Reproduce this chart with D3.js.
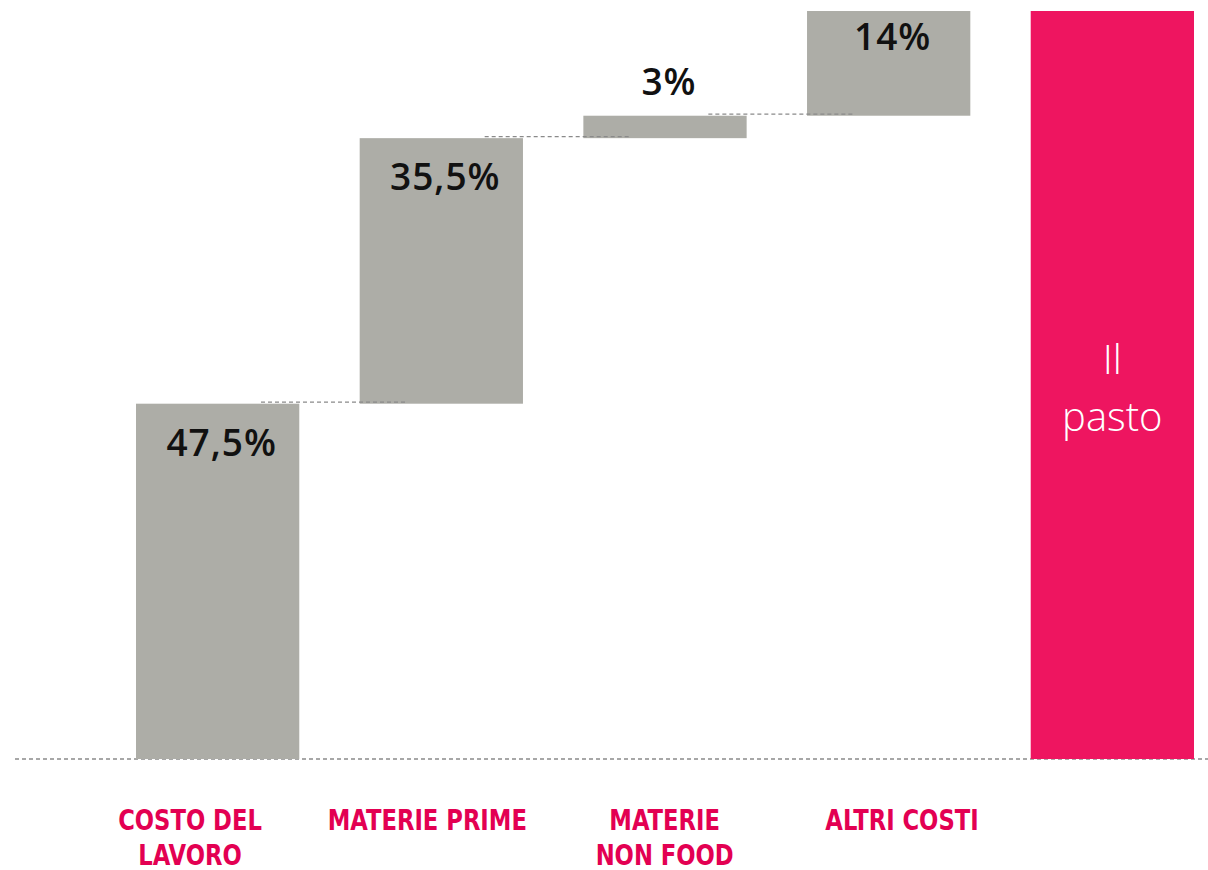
<!DOCTYPE html>
<html>
<head>
<meta charset="utf-8">
<script src="https://cdn.jsdelivr.net/npm/d3@7"></script>
<style>
  html, body { margin: 0; padding: 0; background: #fff; }
  svg { display: block; }
</style>
</head>
<body>
<svg id="chart" width="1208" height="870"></svg>
<script>
// ---- data ----
const categories = ["Costo del lavoro", "Materie prime", "Materie non food", "Altri costi", "Il pasto"];
const values = [47.5, 35.5, 3, 14, 100];
const isTotal = [false, false, false, false, true];
const valueLabels = ["47,5%", "35,5%", "3%", "14%", ""];
const tickLabels = [["COSTO DEL", "LAVORO"], ["MATERIE PRIME"], ["MATERIE", "NON FOOD"], ["ALTRI COSTI"]];
const totalLabel = ["Il", "pasto"];

// ---- layout ----
const W = 1208, H = 870;
const svg = d3.select("#chart");
const grey = "#adada7", pink = "#ee1560", labelPink = "#e30052";

const x = d3.scaleBand().domain(categories).range([136, 1194]).paddingInner(0.27).paddingOuter(0);
const y = d3.scaleLinear().domain([0, 100]).range([759, 11]);
const xl = d3.scalePoint().domain(categories.slice(0, 4)).range([190, 902]).padding(0);

// waterfall running totals
let run = 0;
const bars = categories.map((c, i) => {
  let start, end;
  if (isTotal[i]) { start = 0; end = values[i]; }
  else { start = run; end = run + values[i]; run = end; }
  return { cat: c, start, end, total: isTotal[i], label: valueLabels[i] };
});

// baseline dashed line
svg.append("line")
  .attr("x1", 15).attr("x2", W)
  .attr("y1", y(0)).attr("y2", y(0))
  .attr("stroke", "#8a8a8a").attr("stroke-width", 1.3)
  .attr("stroke-dasharray", "4,3");

// bars
svg.selectAll("rect.bar").data(bars).join("rect")
  .attr("class", "bar")
  .attr("x", d => x(d.cat))
  .attr("width", x.bandwidth())
  .attr("y", d => y(d.end))
  .attr("height", d => y(d.start) - y(d.end))
  .attr("fill", d => d.total ? pink : grey);

// connectors
const conn = bars.slice(0, 3).map((d, i) => ({ a: d, b: bars[i + 1] }));
const cLen = x.bandwidth() * 0.9;
svg.selectAll("line.conn").data(conn).join("line")
  .attr("class", "conn")
  .attr("x1", d => ((x(d.a.cat) + x.bandwidth() + x(d.b.cat)) / 2) + 5 - cLen / 2)
  .attr("x2", d => ((x(d.a.cat) + x.bandwidth() + x(d.b.cat)) / 2) + 5 + cLen / 2)
  .attr("y1", d => y(d.a.end) - 1.5)
  .attr("y2", d => y(d.a.end) - 1.5)
  .attr("stroke", "#8a8a8a").attr("stroke-width", 1.3)
  .attr("stroke-dasharray", "4,3");

// value labels
svg.selectAll("text.val").data(bars.filter(d => !d.total)).join("text")
  .attr("class", "val")
  .attr("x", d => x(d.cat) + x.bandwidth() / 2 + 4)
  .attr("y", d => {
    const h = y(d.start) - y(d.end);
    return h < 40 ? y(d.end) - 21 : y(d.end) + Math.min(52, h * 0.37);
  })
  .attr("text-anchor", "middle")
  .attr("font-family", "'Open Sans', 'Liberation Sans', sans-serif")
  .attr("font-size", 37)
  .attr("font-weight", 600)
  .attr("letter-spacing", 1)
  .attr("fill", "#111")
  .text(d => d.label);

// total bar label
const tb = bars[4];
const tt = svg.append("text")
  .attr("text-anchor", "middle")
  .attr("font-family", "'Open Sans', Lato, sans-serif")
  .attr("font-weight", 300)
  .attr("font-size", 40)
  .attr("fill", "#fff");
tt.selectAll("tspan").data(totalLabel).join("tspan")
  .attr("x", x(tb.cat) + x.bandwidth() / 2)
  .attr("y", (d, i) => 374 + i * 57)
  .text(d => d);

// category axis labels
const g = svg.append("g");
tickLabels.forEach((lines, i) => {
  const t = g.append("g")
    .attr("transform", `translate(${xl(categories[i])},0) scale(0.87,1)`)
    .append("text")
    .attr("text-anchor", "middle")
    .attr("font-family", "'DejaVu Sans Condensed', 'DejaVu Sans', sans-serif")
    .attr("font-stretch", "condensed")
    .attr("font-weight", 700)
    .attr("font-size", 29)
    .attr("fill", labelPink);
  t.selectAll("tspan").data(lines).join("tspan")
    .attr("x", 0)
    .attr("y", (d, j) => 830 + j * 35)
    .text(d => d);
});
</script>
</body>
</html>
